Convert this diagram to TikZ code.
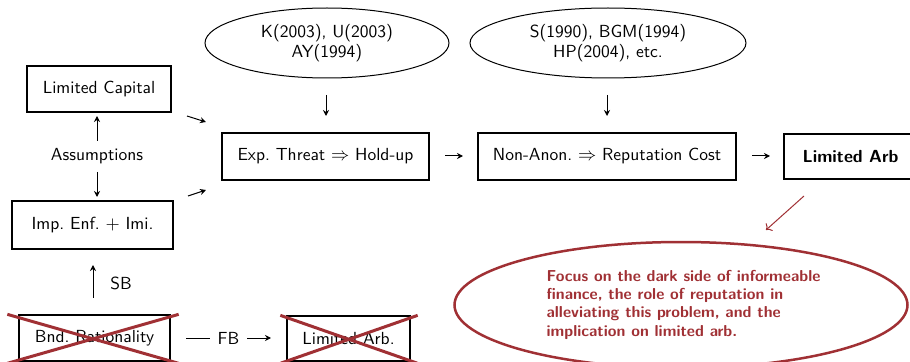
\documentclass[tikz,border=0pt]{standalone}
\usepackage{fontspec}
\usetikzlibrary{shapes.geometric,arrows.meta}
\definecolor{alertred}{RGB}{160,48,52}
\tikzset{
  txt/.style={font=\sffamily\fontsize{10.5}{12.3}\selectfont},
  box/.style={draw, line width=0.8pt, inner sep=0pt, txt},
  bub/.style={draw, ellipse, line width=0.6pt, inner sep=0pt, align=center, txt},
  arr/.style={-{Stealth[length=3.6pt,width=3.6pt]}, line width=0.6pt},
  cross/.style={alertred, line width=1.8pt},
  lbl/.style={txt, inner sep=0pt}
}
\begin{document}
\begin{tikzpicture}[x=0.6pt, y=-0.6pt]
\useasboundingbox (0,0) rectangle (910,362);
\clip (0,0) rectangle (910,362);

% left column
\node[box, minimum width=86.4pt, minimum height=27.6pt] (cap) at (99,89) {Limited Capital};
\node[lbl] (assum) at (97,156) {Assumptions};
\node[box, minimum width=96.6pt, minimum height=28.8pt] (imp) at (92.5,225) {Imp.\ Enf.\ $+$ Imi.};
\node[box, minimum width=90.6pt, minimum height=27.6pt] (bnd) at (94.5,338) {Bnd.\ Rationality};
\node[box, minimum width=73.8pt, minimum height=27pt] (larb) at (348.5,338.5) {Limited Arb.};

% main chain
\node[box, minimum width=124.2pt, minimum height=28.2pt] (exp) at (325.5,156.5) {Exp.\ Threat $\Rightarrow$ Hold-up};
\node[box, minimum width=154.8pt, minimum height=28.2pt] (non) at (607,156.5) {Non-Anon.\ $\Rightarrow$ Reputation Cost};
\node[box, minimum width=79.8pt, minimum height=27pt, font=\sffamily\bfseries\fontsize{10.5}{12.3}\selectfont] (arb) at (850.5,156.5) {Limited Arb};

% references
\node[bub, minimum width=146.4pt, minimum height=42pt] (ref1) at (327,43) {K(2003), U(2003)\\AY(1994)};
\node[bub, minimum width=165.6pt, minimum height=42pt] (ref2) at (608,43) {S(1990), BGM(1994)\\HP(2004), etc.};

% focus bubble
\node[draw=alertred, ellipse, line width=1.5pt, inner sep=0pt,
      minimum width=271.8pt, minimum height=75.6pt] (focus) at (681,305) {};
\node[text=alertred, font=\sffamily\bfseries\fontsize{9.5}{11}\selectfont, align=left, inner sep=0pt]
  (focustxt) at (683.5,304.5) {Focus on the dark side of informeable\\finance, the role of reputation in\\alleviating this problem, and the\\implication on limited arb.};

% arrow end points
\coordinate (a1s) at (97,141);  \coordinate (a1e) at (97,116);
\coordinate (a2s) at (97,172);  \coordinate (a2e) at (97,197);
\coordinate (a3s) at (93,298);  \coordinate (a3e) at (93,265);
\coordinate (a4s) at (187,116); \coordinate (a4e) at (206,122);
\coordinate (a5s) at (188,196); \coordinate (a5e) at (206,190);
\coordinate (a6s) at (326,95);  \coordinate (a6e) at (326,116);
\coordinate (a7s) at (607,95);  \coordinate (a7e) at (607,116);
\coordinate (a8s) at (445,156); \coordinate (a8e) at (463,156);
\coordinate (a9s) at (752,156); \coordinate (a9e) at (770,156);
\coordinate (fbs) at (186,338); \coordinate (fbm) at (210,338);
\coordinate (fbn) at (247,338); \coordinate (fbe) at (271,338);
\coordinate (rs) at (804,196);  \coordinate (re) at (766,230);

\draw[arr] (a1s) -- (a1e);
\draw[arr] (a2s) -- (a2e);
\draw[arr] (a3s) -- (a3e);
\node[lbl] (sb) at (121,283) {SB};
\draw[arr] (a4s) -- (a4e);
\draw[arr] (a5s) -- (a5e);
\draw[arr] (a6s) -- (a6e);
\draw[arr] (a7s) -- (a7e);
\draw[arr] (a8s) -- (a8e);
\draw[arr] (a9s) -- (a9e);
\draw[line width=0.6pt] (fbs) -- (fbm);
\node[lbl] (fb) at (228.5,338) {FB};
\draw[arr] (fbn) -- (fbe);
\draw[->, alertred, line width=0.6pt] (rs) -- (re);

% crossed-out boxes
\draw[cross] ([xshift=-6.6pt]bnd.north west) -- ([xshift=4.8pt,yshift=-1pt]bnd.south east);
\draw[cross] ([xshift=-6.6pt,yshift=-1pt]bnd.south west) -- ([xshift=4.8pt]bnd.north east);
\draw[cross] ([xshift=-3.6pt]larb.north west) -- ([xshift=4.2pt,yshift=-1pt]larb.south east);
\draw[cross] ([xshift=-3.6pt,yshift=-1pt]larb.south west) -- ([xshift=4.2pt]larb.north east);
\end{tikzpicture}
\end{document}
